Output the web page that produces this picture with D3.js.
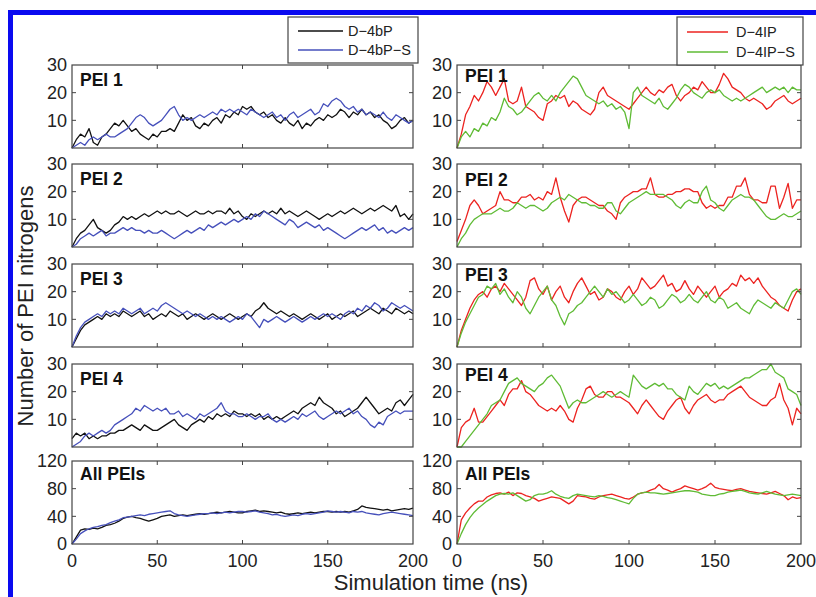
<!DOCTYPE html>
<html lang="en">
<head>
<meta charset="utf-8">
<title>PEI nitrogens</title>
<script src="https://cdn.jsdelivr.net/npm/d3@7"></script>
<style>
  body { margin: 0; background: #fff; }
  text { font-family: "Liberation Sans", Arial, Helvetica, sans-serif; }
</style>
</head>
<body>
<script>
// panel labels, series names, ticks
var panelTitles = ["PEI 1", "PEI 2", "PEI 3", "PEI 4", "All PEIs"];
var leftNames = ["D\u22124bP", "D\u22124bP\u2212S"];
var rightNames = ["D\u22124IP", "D\u22124IP\u2212S"];
var xTicks = [0, 50, 100, 150, 200];
var yTicksPEI = [10, 20, 30];
var yTicksAll = [0, 40, 80, 120];

// values every 2.5 ns, 0..200 ns
var bp1 = [0,3,5,4,7,2,1,4,5,7, 9,8,10,8,6,7,5,4,3,5, 4,6,6,7,6,9,12,10,11,8, 7,9,8,10,11,9,12,11,13,12,
           15,14,15,13,12,13,11,12,10,9, 11,9,8,10,7,9,8,10,11,10, 12,11,12,14,13,11,13,12,14,12, 13,11,12,10,9,7,8,10,11,9, 10];
var bps1 = [0,1,2,1,3,4,3,4,5,4, 4,5,6,7,9,11,12,11,9,8, 9,10,12,14,15,12,10,11,10,11, 12,11,12,13,12,14,13,14,13,14,
            13,12,14,13,12,11,12,13,11,12, 10,12,13,11,12,13,14,12,13,16, 15,17,18,17,15,14,15,13,14,12, 13,12,11,13,11,10,12,11,10,9, 10];
var bp2 = [0,3,5,6,8,10,7,6,5,6, 8,9,11,10,11,10,11,12,11,12, 13,12,13,12,12,13,12,11,12,13, 12,12,13,12,13,13,12,14,12,13,
           11,10,12,11,12,13,12,13,12,14, 12,13,12,11,12,13,12,11,10,11, 12,11,12,13,12,13,14,13,12,13, 14,13,14,15,14,13,15,11,12,10, 12];
var bps2 = [0,1,3,4,5,4,5,6,4,5, 5,6,7,6,7,6,6,5,6,5, 5,6,5,4,3,4,5,6,5,6, 7,6,8,7,8,9,8,9,10,9,
            10,11,10,12,11,13,12,11,10,9, 8,10,9,7,8,9,8,7,8,6, 7,6,5,4,3,4,5,6,7,6, 7,8,6,7,5,6,5,6,7,6, 7];
var bp3 = [0,3,6,8,9,10,11,10,12,11, 12,11,13,12,11,12,13,11,12,10, 11,12,11,13,12,11,12,10,11,12, 11,10,11,12,11,10,11,12,11,10,
           11,12,11,13,14,16,14,13,12,13, 12,11,12,11,10,11,12,11,10,11, 12,10,11,12,11,12,13,11,12,13, 14,13,12,14,13,12,14,13,12,13, 12];
var bps3 = [0,4,7,9,10,11,12,11,13,12, 13,12,14,13,12,13,14,12,13,14, 13,15,16,15,14,13,12,13,12,11, 12,11,10,11,10,11,10,9,10,11,
            10,12,11,9,7,10,9,10,11,10, 9,10,11,10,9,10,11,10,11,12, 11,12,11,10,12,13,12,14,13,15, 14,16,15,13,14,16,15,14,15,14, 13];
var bp4 = [3,5,4,5,3,4,3,4,4,5, 5,6,6,7,8,7,6,8,7,6, 6,7,8,9,10,8,7,6,8,9, 10,9,11,10,12,11,12,11,13,12,
           12,11,12,11,12,10,11,10,11,10, 11,12,13,12,14,15,16,15,18,16, 15,14,12,13,11,12,13,14,16,18, 16,14,12,13,14,13,16,17,15,17, 19];
var bps4 = [0,1,2,4,5,4,5,6,5,6, 8,9,10,11,12,14,13,15,14,13, 14,13,14,12,12,13,11,12,11,10, 12,11,12,13,14,16,13,12,12,11,
            11,12,11,10,11,11,12,10,9,10, 9,10,11,10,12,11,12,13,11,10, 11,12,13,12,13,14,12,13,11,10, 8,7,9,8,11,12,13,12,13,13, 13];
var bpA = [0,10,20,22,21,23,22,24,27,28, 30,33,37,39,40,38,37,35,33,35, 37,40,41,42,40,41,42,41,42,43, 44,43,44,45,46,45,46,47,46,45,
           45,47,48,49,47,48,47,46,45,46, 44,43,44,45,44,45,46,45,46,47, 47,46,47,46,47,46,48,50,55,53, 52,51,50,49,50,48,49,50,51,50, 52];
var bpsA = [0,7,15,19,22,24,25,27,28,31, 33,35,38,39,40,41,42,41,43,44, 45,46,47,48,44,42,41,40,41,42, 43,44,44,45,44,45,46,45,46,47,
            47,46,47,48,46,45,44,42,43,41, 40,41,42,41,43,44,43,44,45,46, 48,47,46,47,46,45,47,46,47,45, 44,43,42,44,45,46,45,44,43,42, 41];

var ip1 = [0,5,12,15,19,17,20,24,22,19, 22,25,17,16,17,22,15,14,13,11, 10,16,17,19,18,19,15,17,16,14, 13,12,14,20,22,19,18,17,16,15,
           14,16,18,20,22,20,19,21,20,22, 23,19,17,19,20,22,21,24,22,20, 20,23,27,25,22,21,20,18,17,18, 17,16,14,15,17,18,19,17,16,17, 18];
var ips1 = [0,4,6,4,7,6,9,8,11,10, 13,18,15,14,12,13,15,17,19,20, 18,17,19,17,20,22,24,26,25,22, 19,18,17,16,17,15,16,14,15,13,
            7,20,22,19,18,17,16,18,15,14, 16,18,21,23,22,20,19,18,20,21, 20,21,19,18,17,18,17,18,19,20, 21,22,20,21,22,21,22,20,22,21, 21];
var ip2 = [2,6,10,15,17,15,12,13,14,15, 20,17,17,16,16,18,18,19,17,18, 17,20,19,25,18,13,9,15,17,18, 18,17,16,15,15,13,12,10,16,18,
           19,20,20,21,21,25,19,18,18,19, 19,20,20,21,21,20,20,16,14,15, 14,15,15,18,18,22,22,25,19,17, 17,16,16,22,22,14,18,23,14,17, 17];
var ips2 = [0,3,5,8,10,11,12,12,12,13, 14,13,13,14,16,15,14,15,15,14, 13,14,16,17,18,17,19,18,17,16, 16,15,15,14,14,16,16,13,12,14,
            16,17,18,19,20,19,19,19,19,18, 17,15,14,16,17,16,16,20,22,17, 16,14,13,15,17,18,19,18,18,17, 15,13,11,10,10,11,12,11,11,12, 13];
var ip3 = [0,6,10,14,17,19,20,18,21,22, 20,23,21,19,17,15,18,24,25,21, 19,22,17,20,22,18,16,20,23,25, 22,19,20,17,18,21,20,18,17,20,
           22,19,21,25,23,21,22,24,26,22, 23,20,21,24,21,19,22,20,18,20, 22,18,20,21,23,22,26,24,25,23, 25,22,20,18,17,15,14,13,17,20, 21];
var ips3 = [0,5,9,12,15,18,19,22,21,23, 19,21,18,16,20,18,14,12,15,18, 20,22,17,15,11,8,12,13,15,16, 18,20,22,20,18,21,19,20,18,16,
            17,19,17,15,16,18,17,14,15,17, 19,18,16,17,19,17,16,18,20,17, 16,18,17,14,15,16,14,13,12,15, 17,16,15,14,16,15,14,17,20,21, 19];
var ip4 = [0,7,9,10,14,9,9,11,13,15, 17,15,19,21,21,24,20,19,17,15, 14,13,14,13,15,13,10,9,14,17, 21,22,19,18,18,20,20,18,18,17,
           16,14,12,15,17,15,13,11,10,13, 15,17,18,14,12,15,17,18,19,17, 16,17,17,19,20,21,22,20,18,17, 16,15,15,17,18,23,17,14,8,14, 12];
var ips4 = [0,0,2,4,6,8,10,12,15,16, 17,20,23,24,25,23,22,21,20,22, 23,25,26,24,22,18,14,16,17,16, 16,17,18,19,20,19,18,19,20,19,
            18,26,24,22,21,22,23,22,23,21, 21,19,18,17,22,20,19,21,23,22, 23,21,22,21,22,23,24,25,25,26, 27,28,28,30,27,26,25,21,20,19, 15];
var ipA = [0,35,45,52,58,62,62,68,71,73, 74,72,75,70,74,73,70,68,66,62, 64,66,68,67,66,62,58,62,70,69, 68,66,65,68,70,71,72,70,68,66,
           65,68,72,74,75,78,80,86,80,78, 75,78,80,84,82,80,78,80,83,88, 82,80,79,78,77,79,80,78,76,75, 74,73,72,74,76,73,70,64,68,66, 67];
var ipsA = [0,15,28,38,46,52,57,62,66,70, 72,73,72,74,70,66,62,64,70,72, 72,74,77,72,69,67,66,70,72,71, 70,69,68,70,69,67,66,64,62,60,
            58,66,72,74,75,74,74,73,72,73, 74,75,76,77,77,76,75,72,71,70, 70,72,73,75,76,77,78,76,74,73, 72,74,76,74,72,71,70,71,72,71, 70];

var leftSeries = [[bp1, bps1], [bp2, bps2], [bp3, bps3], [bp4, bps4], [bpA, bpsA]];
var rightSeries = [[ip1, ips1], [ip2, ips2], [ip3, ips3], [ip4, ips4], [ipA, ipsA]];

var w = 816, h = 597;
var cols = [{x0: 72, x1: 413, series: leftSeries, colors: ["#111111", "#4650bb"], names: leftNames},
            {x0: 457, x1: 801, series: rightSeries, colors: ["#ec2320", "#5fbb35"], names: rightNames}];
var rowTops = [65, 164, 264, 364, 461];
var panelH = 83;
var tickLen = 4;

var svg = d3.select("body").append("svg")
    .attr("width", w)
    .attr("height", h);

svg.append("rect").attr("width", w).attr("height", h).attr("fill", "#fff");

// blue frame of the figure
svg.append("rect").attr("x", 8).attr("y", 10).attr("width", w - 8).attr("height", 5).attr("fill", "#0a0af0");
svg.append("rect").attr("x", 8).attr("y", 10).attr("width", 5).attr("height", h - 10).attr("fill", "#0a0af0");

cols.forEach(function(col, ci) {
    var x = d3.scaleLinear().domain([0, 200]).range([col.x0, col.x1]);

    col.series.forEach(function(pair, ri) {
        var top = rowTops[ri];
        var isAll = ri == 4;
        var y = d3.scaleLinear().domain([0, isAll ? 120 : 30]).range([top + panelH, top]);
        var g = svg.append("g");

        var line = d3.line()
            .x(function(d, i, arr) { return x(i * 200 / (arr.length - 1)); })
            .y(function(d) { return y(d); });

        pair.forEach(function(vals, si) {
            g.append("path")
                .datum(vals)
                .attr("d", line)
                .attr("fill", "none")
                .attr("stroke", col.colors[si])
                .attr("stroke-width", 1.3)
                .attr("stroke-linejoin", "round");
        });

        // inward ticks on all four sides, MATLAB style
        var yt = isAll ? yTicksAll : yTicksPEI;
        var inner = xTicks.slice(1, -1);
        g.selectAll(".xtb").data(inner).enter().append("line")
            .attr("x1", function(d) { return x(d); }).attr("x2", function(d) { return x(d); })
            .attr("y1", top + panelH).attr("y2", top + panelH - tickLen)
            .attr("stroke", "#444");
        g.selectAll(".xtt").data(inner).enter().append("line")
            .attr("x1", function(d) { return x(d); }).attr("x2", function(d) { return x(d); })
            .attr("y1", top).attr("y2", top + tickLen)
            .attr("stroke", "#444");
        var yInner = yt.filter(function(d) { return d > 0 && d < y.domain()[1]; });
        g.selectAll(".ytl").data(yInner).enter().append("line")
            .attr("x1", col.x0).attr("x2", col.x0 + tickLen)
            .attr("y1", function(d) { return y(d); }).attr("y2", function(d) { return y(d); })
            .attr("stroke", "#444");
        g.selectAll(".ytr").data(yInner).enter().append("line")
            .attr("x1", col.x1).attr("x2", col.x1 - tickLen)
            .attr("y1", function(d) { return y(d); }).attr("y2", function(d) { return y(d); })
            .attr("stroke", "#444");

        g.append("rect")
            .attr("x", col.x0).attr("y", top)
            .attr("width", col.x1 - col.x0).attr("height", panelH)
            .attr("fill", "none").attr("stroke", "#444").attr("stroke-width", 1.2);

        g.selectAll(".ylab").data(yt).enter().append("text")
            .attr("x", col.x0 - 5)
            .attr("y", function(d) { return y(d); })
            .attr("dy", "0.35em")
            .attr("text-anchor", "end")
            .attr("font-size", "18px")
            .attr("fill", "#222")
            .text(function(d) { return d; });

        var titleX = ci == 0 ? 80 : 465;
        var titleY = ci == 0 ? top + 21 : (ri == 1 ? top + 22 : top + 17);
        if (isAll) titleY = top + 19;
        g.append("text")
            .attr("x", titleX).attr("y", titleY)
            .attr("font-size", "17.5px")
            .attr("font-weight", "bold")
            .attr("fill", "#111")
            .text(panelTitles[ri]);

        if (isAll) {
            g.selectAll(".xlab").data(xTicks).enter().append("text")
                .attr("x", function(d) { return x(d); })
                .attr("y", top + panelH + 23)
                .attr("text-anchor", "middle")
                .attr("font-size", "18px")
                .attr("fill", "#222")
                .text(function(d) { return d; });
        }
    });
});

// legends
var legends = [{x: 288, y: 17, w: 130, h: 46, lx0: 298, lx1: 343, tx: 348, rows: [31, 50], col: cols[0]},
               {x: 677, y: 17, w: 126, h: 48, lx0: 687, lx1: 728, tx: 736, rows: [32, 52], col: cols[1]}];
legends.forEach(function(L) {
    var g = svg.append("g");
    g.append("rect").attr("x", L.x).attr("y", L.y).attr("width", L.w).attr("height", L.h)
        .attr("fill", "#fff").attr("stroke", "#444").attr("stroke-width", 1.2);
    L.col.names.forEach(function(name, i) {
        g.append("line")
            .attr("x1", L.lx0).attr("x2", L.lx1)
            .attr("y1", L.rows[i]).attr("y2", L.rows[i])
            .attr("stroke", L.col.colors[i]).attr("stroke-width", 1.3);
        g.append("text")
            .attr("x", L.tx).attr("y", L.rows[i]).attr("dy", "0.35em")
            .attr("font-size", "14.5px").attr("fill", "#222")
            .text(name);
    });
});

// axis titles
svg.append("text")
    .attr("x", 431).attr("y", 590)
    .attr("text-anchor", "middle")
    .attr("font-size", "22px").attr("fill", "#222")
    .text("Simulation time (ns)");

svg.append("text")
    .attr("transform", "translate(33,306) rotate(-90)")
    .attr("text-anchor", "middle")
    .attr("font-size", "22px").attr("fill", "#222")
    .text("Number of PEI nitrogens");
</script>
</body>
</html>
